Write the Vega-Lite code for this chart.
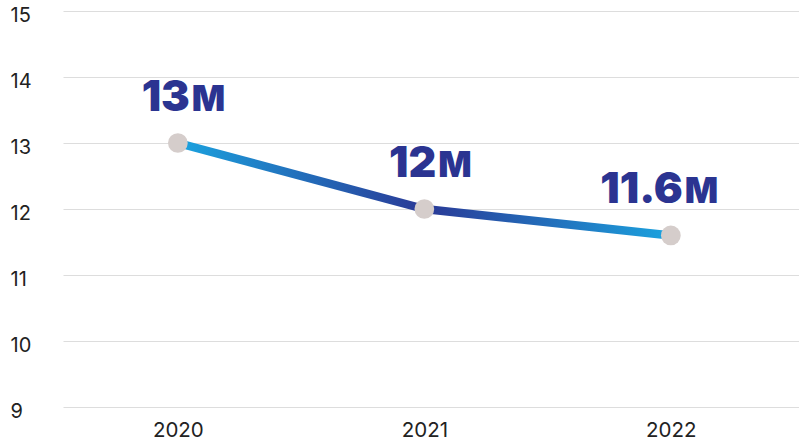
{
  "$schema": "https://vega.github.io/schema/vega-lite/v6.json",
  "width": 736,
  "height": 396,
  "autosize": {"type": "none"},
  "padding": {"left": 63, "top": 11, "right": 0, "bottom": 40},
  "background": "white",
  "config": {"view": {"stroke": null}},
  "data": {"values": [
    {"year": 2020, "value": 13, "num": "13", "unit": "M"},
    {"year": 2021, "value": 12, "num": "12", "unit": "M"},
    {"year": 2022, "value": 11.6, "num": "11.6", "unit": "M"}
  ]},
  "encoding": {
    "x": {"field": "year", "type": "quantitative",
      "scale": {"domain": [2019.534, 2022.52], "nice": false, "zero": false},
      "axis": {"title": null, "values": [2020, 2021, 2022], "format": "d", "grid": false, "domain": false, "ticks": false,
        "labelFont": "Inter", "labelFontSize": 20.5, "labelColor": "#222222", "labelPadding": 13}},
    "y": {"field": "value", "type": "quantitative",
      "scale": {"domain": [9, 15], "nice": false, "zero": false},
      "axis": {"title": null, "values": [9, 10, 11, 12, 13, 14, 15], "grid": true, "gridColor": "#dddddd", "gridWidth": 1,
        "domain": false, "ticks": false, "labelAlign": "left", "labelPadding": 53, "labelOffset": 4,
        "labelFont": "Inter", "labelFontSize": 20, "labelColor": "#222222"}}
  },
  "layer": [
    {
      "transform": [{"filter": "datum.year <= 2021"}],
      "mark": {"type": "line", "strokeWidth": 8.5,
        "color": {"gradient": "linear", "x1": 0, "y1": 0, "x2": 1, "y2": 0,
          "stops": [{"offset": 0, "color": "#1ba3df"}, {"offset": 1, "color": "#2a3996"}]}}
    },
    {
      "transform": [{"filter": "datum.year >= 2021"}],
      "mark": {"type": "line", "strokeWidth": 8.5,
        "color": {"gradient": "linear", "x1": 0, "y1": 0, "x2": 1, "y2": 0,
          "stops": [{"offset": 0, "color": "#2a3996"}, {"offset": 1, "color": "#1ba3df"}]}}
    },
    {
      "mark": {"type": "point", "filled": true, "shape": "circle", "size": 390, "color": "#d5cdcb", "opacity": 1}
    },
    {
      "mark": {"type": "text", "align": "right", "baseline": "alphabetic", "dx": 12, "dy": -32,
        "font": "Inter", "fontWeight": 900, "fontSize": 43, "letterSpacing": -2, "color": "#2b3491"},
      "encoding": {"text": {"field": "num"}}
    },
    {
      "mark": {"type": "text", "align": "left", "baseline": "alphabetic", "dx": 14, "dy": -32,
        "font": "Inter", "fontWeight": 900, "fontSize": 35, "color": "#2b3491"},
      "encoding": {"text": {"field": "unit"}}
    }
  ]
}
